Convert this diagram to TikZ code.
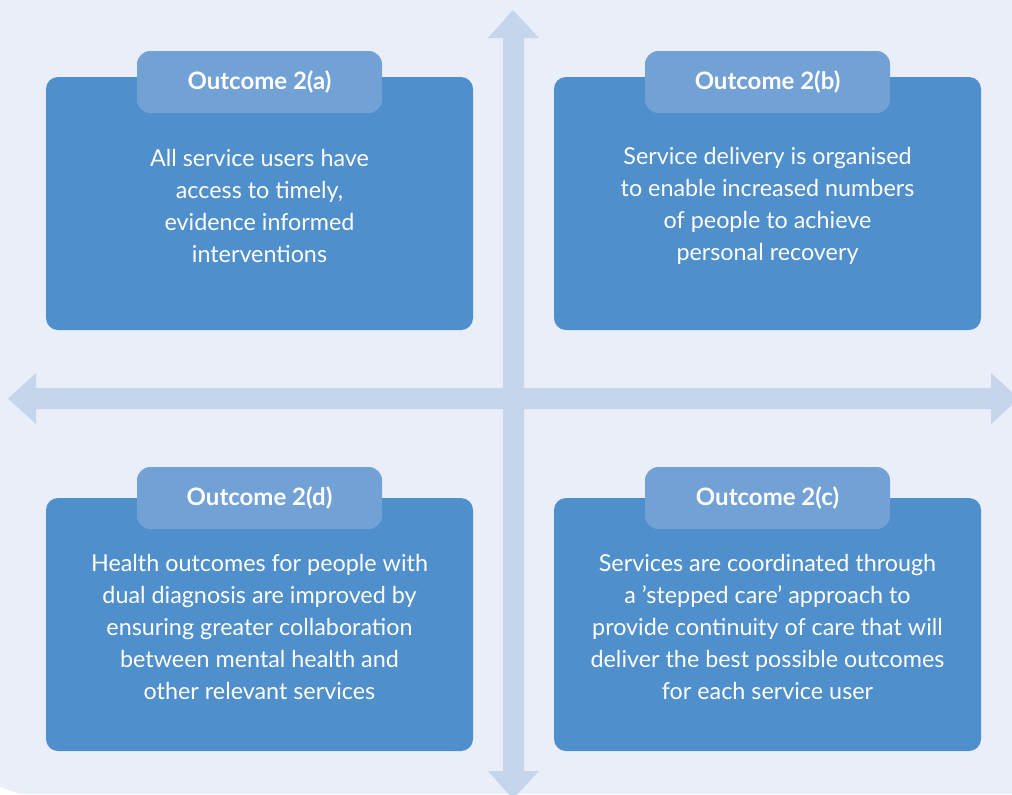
\documentclass[tikz,border=0pt]{standalone}
\usepackage{fontspec}
\setmainfont{Lato}
\definecolor{bgc}{HTML}{E9EEF8}
\definecolor{arrc}{HTML}{C5D5EC}
\definecolor{boxc}{HTML}{4F8FCC}
\definecolor{tabc}{HTML}{72A1D6}
\tikzset{
  mainbox/.style={fill=boxc, rounded corners=9pt, minimum width=320.25pt, minimum height=189.75pt, inner sep=0pt},
  tabbox/.style={fill=tabc, rounded corners=10pt, minimum width=183.75pt, minimum height=46.5pt, inner sep=0pt, text=white, font=\fontsize{18}{21}\selectfont\bfseries},
  bodytext/.style={text=white, align=center, font=\fontsize{17.5}{24}\selectfont, inner sep=0pt},
  arrowshape/.style={fill=arrc, draw=none}
}
\begin{document}
\begin{tikzpicture}[x=0.75pt,y=-0.75pt]
\useasboundingbox (0,0) rectangle (1012,794);
\fill[bgc] (0,0) rectangle (1012,794);
\fill[white] (0,787) -- (20,794) -- (0,794) -- cycle;
% vertical double arrow
\fill[arrowshape] (513,10) -- (539,38) -- (524,38) -- (524,771) -- (539,771) -- (513,799) -- (488,771) -- (503,771) -- (503,38) -- (488,38) -- cycle;
% horizontal double arrow
\fill[arrowshape] (8,398.5) -- (36,373) -- (36,388) -- (991,388) -- (991,373) -- (1019,398.5) -- (991,424) -- (991,409) -- (36,409) -- (36,424) -- cycle;
% boxes
\node[mainbox] (boxa) at (259.5,203.5) {};
\node[mainbox] (boxb) at (767.5,203.5) {};
\node[mainbox] (boxd) at (259.5,624.5) {};
\node[mainbox] (boxc) at (767.5,624.5) {};
\node[tabbox] (taba) at (259.5,82) {Outcome 2(a)};
\node[tabbox] (tabb) at (767.5,82) {Outcome 2(b)};
\node[tabbox] (tabd) at (259.5,498) {Outcome 2(d)};
\node[tabbox] (tabc) at (767.5,498) {Outcome 2(c)};
\node[bodytext] (texta) at (259.5,206) {All service users have\\access to timely,\\evidence informed\\interventions};
\node[bodytext] (textb) at (767.5,206) {Service delivery is organised\\to enable increased numbers\\of people to achieve\\personal recovery};
\node[bodytext] (textd) at (259.5,627) {Health outcomes for people with\\dual diagnosis are improved by\\ensuring greater collaboration\\between mental health and\\other relevant services};
\node[bodytext] (textc) at (767.5,627) {Services are coordinated through\\a ’stepped care’ approach to\\provide continuity of care that will\\deliver the best possible outcomes\\for each service user};
\end{tikzpicture}
\end{document}
